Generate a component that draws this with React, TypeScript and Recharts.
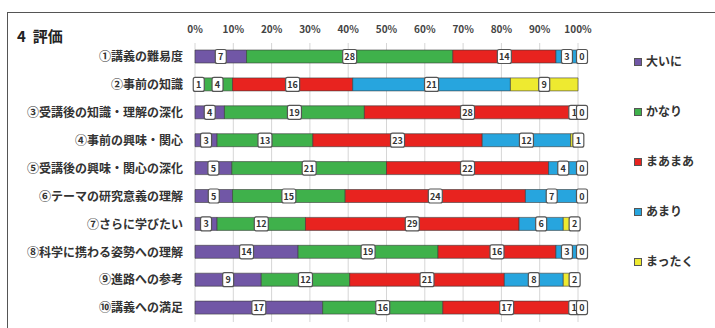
import React from 'react'
import { BarChart, Bar, XAxis, YAxis, CartesianGrid, LabelList } from 'recharts'

// 質問項目
const categories = [
  '①講義の難易度',
  '②事前の知識',
  '③受講後の知識・理解の深化',
  '④事前の興味・関心',
  '⑤受講後の興味・関心の深化',
  '⑥テーマの研究意義の理解',
  '⑦さらに学びたい',
  '⑧科学に携わる姿勢への理解',
  '⑨進路への参考',
  '⑩講義への満足',
]

// 回答数
const ooini = [7, 1, 4, 3, 5, 5, 3, 14, 9, 17]
const kanari = [28, 4, 19, 13, 21, 15, 12, 19, 12, 16]
const maamaa = [14, 16, 28, 23, 22, 24, 29, 16, 21, 17]
const amari = [3, 21, 1, 12, 4, 7, 6, 3, 8, 1]
const mattaku = [0, 9, 0, 1, 0, 0, 2, 0, 2, 0]

const pctTicks = [0, 0.1, 0.2, 0.3, 0.4, 0.5, 0.6, 0.7, 0.8, 0.9, 1]

const series = [
  { key: 'ooini', name: '大いに', color: '#7157a6' },
  { key: 'kanari', name: 'かなり', color: '#3fb14b' },
  { key: 'maamaa', name: 'まあまあ', color: '#e8231f' },
  { key: 'amari', name: 'あまり', color: '#27a5de' },
  { key: 'mattaku', name: 'まったく', color: '#eeea30' },
]

const data = categories.map((name, i) => ({
  name,
  ooini: ooini[i],
  kanari: kanari[i],
  maamaa: maamaa[i],
  amari: amari[i],
  mattaku: mattaku[i],
}))

const font = '"Noto Sans CJK JP", "Noto Sans", sans-serif'

const labelBox = (cx: number, cy: number, value: any) => {
  const w = String(value).length > 1 ? 14 : 11
  return (
    <g>
      <rect x={cx - w / 2} y={cy - 7} width={w} height={14} rx={2} fill="#fff" stroke="#555" strokeWidth={1.2} />
      <text x={cx} y={cy + 3.5} textAnchor="middle" fontSize={9} fontWeight={700} fill="#333" fontFamily={font}>
        {value}
      </text>
    </g>
  )
}

const makeLabel = (nudge: boolean) => (props: any) => {
  const { x, y, width, height, value } = props
  if (value === undefined || value === null) return null
  let cx = Number(x) + Number(width) / 2
  if (nudge && Number(width) < 20) cx += 4
  return labelBox(cx, Number(y) + Number(height) / 2, value)
}

// zero "まったく" values have no rectangle, so draw them at the end of the あまり segment
const zeroTailLabel = (props: any) => {
  const { x, y, width, height, value } = props
  if (value !== 0) return null
  return labelBox(Number(x) + Number(width) + 4, Number(y) + Number(height) / 2, value)
}

const App = () => {
  return (
    <div style={{ position: 'relative', width: 715, height: 328, background: '#fff', overflow: 'hidden', fontFamily: font }}>
      <style>{'body{margin:0;overflow:hidden}'}</style>
      <div style={{ position: 'absolute', left: 7, top: 12, width: 720, height: 340, border: '1.5px solid #555' }} />
      <div style={{ position: 'absolute', left: 17, top: 25, fontSize: 15, fontWeight: 700, color: '#222' }}>
        4&nbsp;&nbsp;評価
      </div>
      <BarChart
        width={715}
        height={328}
        data={data}
        layout="vertical"
        stackOffset="expand"
        margin={{ top: 0, right: 137, bottom: 6, left: 0 }}
        style={{ position: 'absolute', left: 0, top: 0 }}
      >
        <CartesianGrid horizontal={false} stroke="#d6d6d6" />
        <XAxis
          type="number"
          orientation="top"
          domain={[0, 1]}
          ticks={pctTicks}
          tickFormatter={(v: number) => `${Math.round(v * 100)}%`}
          axisLine={false}
          tickLine={false}
          tickMargin={4}
          height={43}
          interval={0}
          tick={{ fontSize: 10, fontWeight: 700, fill: '#444', fontFamily: font }}
        />
        <YAxis
          type="category"
          dataKey="name"
          width={195}
          axisLine={false}
          tickLine={false}
          tickMargin={6}
          interval={0}
          tick={{ fontSize: 12, fontWeight: 700, fill: '#333', fontFamily: font }}
        />
        {series.map((s, i) => (
          <Bar
            key={s.key}
            dataKey={s.key}
            name={s.name}
            stackId="a"
            fill={s.color}
            stroke="#3a3a3a"
            strokeWidth={0.6}
            barSize={13}
            isAnimationActive={false}
          >
            <LabelList dataKey={s.key} content={makeLabel(i === series.length - 1)} />
            {s.key === 'amari' && <LabelList dataKey="mattaku" content={zeroTailLabel} />}
          </Bar>
        ))}
      </BarChart>
      <div style={{ position: 'absolute', left: 634, top: 53 }}>
        {series.map((s) => (
          <div key={s.key} style={{ height: 50, display: 'flex', alignItems: 'flex-start' }}>
            <span
              style={{
                display: 'inline-block',
                width: 6,
                height: 6,
                background: s.color,
                border: '1px solid #555',
                marginTop: 5,
                marginRight: 4,
              }}
            />
            <span style={{ fontSize: 12, fontWeight: 700, color: '#333', lineHeight: '16px' }}>{s.name}</span>
          </div>
        ))}
      </div>
    </div>
  )
}

export default App
